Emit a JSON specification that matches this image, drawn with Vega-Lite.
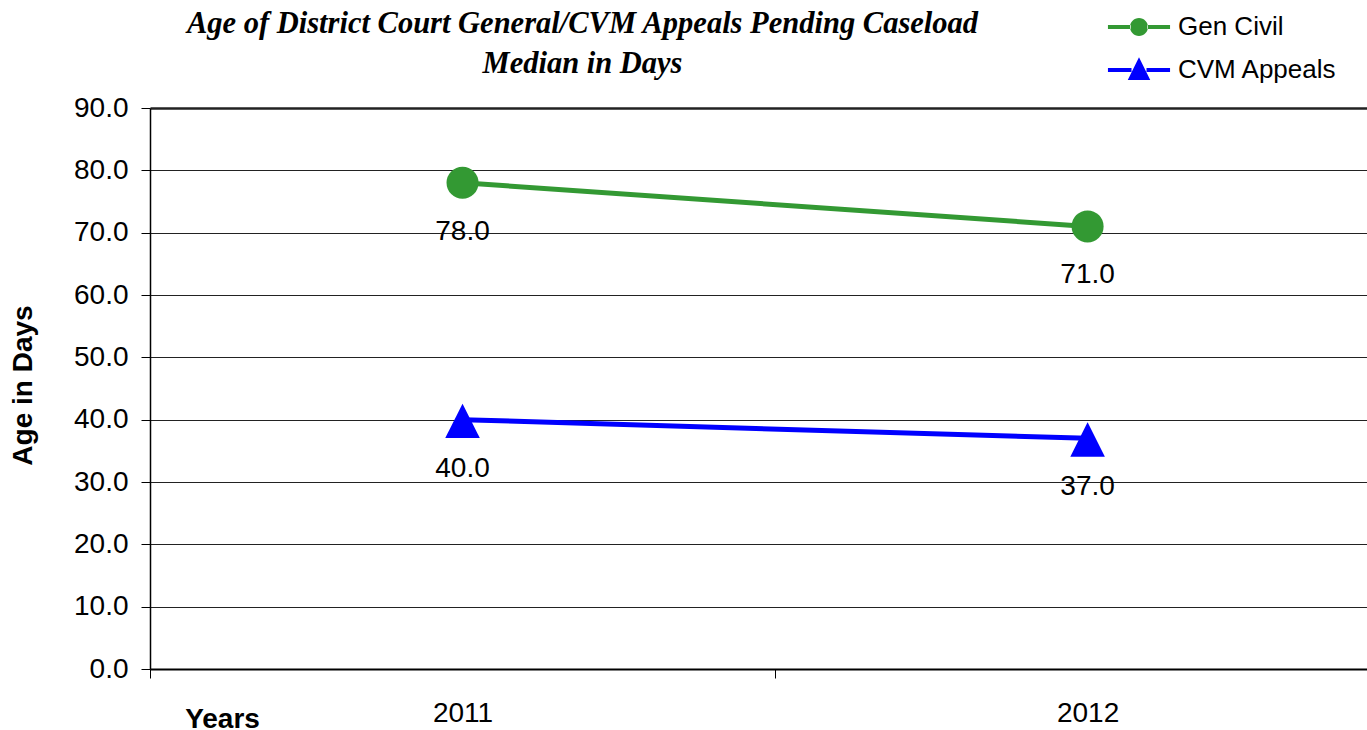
{
  "$schema": "https://vega.github.io/schema/vega-lite/v6.json",
  "width": 1217,
  "height": 561,
  "autosize": {"type": "none"},
  "padding": {"left": 150, "top": 108, "right": 0, "bottom": 61},
  "background": "white",
  "config": {"view": {"stroke": null}, "font": "Liberation Sans"},
  "title": {
    "text": ["Age of District Court General/CVM Appeals Pending Caseload", "Median in Days"],
    "font": "Liberation Serif",
    "fontSize": 30.5,
    "fontStyle": "italic",
    "fontWeight": "bold",
    "anchor": "middle",
    "dx": -176,
    "dy": 97,
    "offset": 30,
    "lineHeight": 40,
    "color": "black"
  },
  "data": {
    "values": [
      {"year": 2011, "series": "Gen Civil", "days": 78},
      {"year": 2012, "series": "Gen Civil", "days": 71},
      {"year": 2011, "series": "CVM Appeals", "days": 40},
      {"year": 2012, "series": "CVM Appeals", "days": 37}
    ]
  },
  "encoding": {
    "x": {
      "field": "year",
      "type": "quantitative",
      "scale": {"domain": [2010.5, 2012.447], "nice": false, "zero": false},
      "axis": {
        "values": [2010.5, 2011, 2011.5, 2012],
        "labelExpr": "datum.value % 1 === 0 ? '' + datum.value : ''",
        "grid": false,
        "tickSize": 9,
        "tickColor": "black",
        "tickOpacity": {"condition": {"test": "datum.value % 1 === 0", "value": 0}, "value": 1},
        "domainColor": "black",
        "domainWidth": 2,
        "labelFontSize": 28,
        "labelColor": "black",
        "labelPadding": 21,
        "labelOverlap": false,
        "title": "Years",
        "titleFontWeight": "bold",
        "titleFontSize": 28,
        "titleColor": "black",
        "titleX": 72,
        "titleY": 50,
        "titleAlign": "center",
        "titleBaseline": "middle"
      }
    },
    "y": {
      "field": "days",
      "type": "quantitative",
      "scale": {"domain": [0, 90], "nice": false},
      "axis": {
        "values": [0, 10, 20, 30, 40, 50, 60, 70, 80, 90],
        "format": ".1f",
        "title": "Age in Days",
        "titleFontSize": 28,
        "titleFontWeight": "bold",
        "titleColor": "black",
        "titleX": -127,
        "titleY": 277,
        "titleAngle": -90,
        "titleAlign": "center",
        "titleBaseline": "middle",
        "labelFontSize": 28,
        "labelColor": "black",
        "labelPadding": 13,
        "tickSize": 9,
        "tickColor": "black",
        "domainColor": "black",
        "domainWidth": 1.5,
        "grid": true,
        "gridColor": "#222222",
        "gridOpacity": 1,
        "gridWidth": {"condition": {"test": "datum.value === 90", "value": 2.5}, "value": 1}
      }
    }
  },
  "layer": [
    {
      "mark": {"type": "line", "strokeWidth": 5},
      "encoding": {
        "color": {
          "field": "series",
          "type": "nominal",
          "scale": {"domain": ["Gen Civil", "CVM Appeals"], "range": ["#339933", "#0000FF"]},
          "legend": {
            "orient": "none",
            "legendX": 974,
            "legendY": -96,
            "title": null,
            "padding": 0,
            "labelFontSize": 26,
            "labelColor": "black",
            "labelOffset": 24,
            "rowPadding": 15,
            "symbolSize": 900,
            "symbolStrokeWidth": 0,
            "symbolOpacity": 1
          }
        }
      }
    },
    {
      "mark": {"type": "point", "filled": true, "opacity": 0},
      "encoding": {
        "color": {
          "field": "series",
          "type": "nominal",
          "scale": {"domain": ["Gen Civil", "CVM Appeals"], "range": ["#339933", "#0000FF"]},
          "legend": {
            "orient": "none",
            "legendX": 974,
            "legendY": -96,
            "title": null,
            "padding": 0,
            "labelFontSize": 26,
            "labelColor": "black",
            "labelOffset": 24,
            "rowPadding": 15,
            "symbolSize": 900,
            "symbolStrokeWidth": 0,
            "symbolOpacity": 1
          }
        },
        "shape": {
          "field": "series",
          "type": "nominal",
          "scale": {
            "domain": ["Gen Civil", "CVM Appeals"],
            "range": [
              "M-2.07,-0.13L-0.55,-0.13L-0.55,0.13L-2.07,0.13Z M0.55,-0.13L2.07,-0.13L2.07,0.13L0.55,0.13Z M-0.6,0A0.6,0.6 0 1,0 0.6,0A0.6,0.6 0 1,0 -0.6,0Z",
              "M-2.07,-0.13L-0.5,-0.13L-0.5,0.13L-2.07,0.13Z M0.5,-0.13L2.07,-0.13L2.07,0.13L0.5,0.13Z M0,-0.85L0.75,0.67L-0.75,0.67Z"
            ]
          },
          "legend": {
            "orient": "none",
            "legendX": 974,
            "legendY": -96,
            "title": null,
            "padding": 0,
            "labelFontSize": 26,
            "labelColor": "black",
            "labelOffset": 24,
            "rowPadding": 15,
            "symbolSize": 900,
            "symbolStrokeWidth": 0,
            "symbolOpacity": 1
          }
        }
      }
    },
    {
      "transform": [{"filter": "datum.series === 'Gen Civil'"}],
      "mark": {"type": "point", "filled": true, "opacity": 1, "size": 1024, "shape": "circle", "color": "#339933"}
    },
    {
      "transform": [{"filter": "datum.series === 'CVM Appeals'"}],
      "mark": {"type": "point", "filled": true, "opacity": 1, "size": 1024, "shape": "M0,-1L1.08,1.15L-1.08,1.15Z", "color": "#0000FF"}
    },
    {
      "mark": {"type": "text", "dy": 49, "fontSize": 28, "color": "black"},
      "encoding": {
        "text": {"field": "days", "type": "quantitative", "format": ".1f"}
      }
    }
  ]
}
